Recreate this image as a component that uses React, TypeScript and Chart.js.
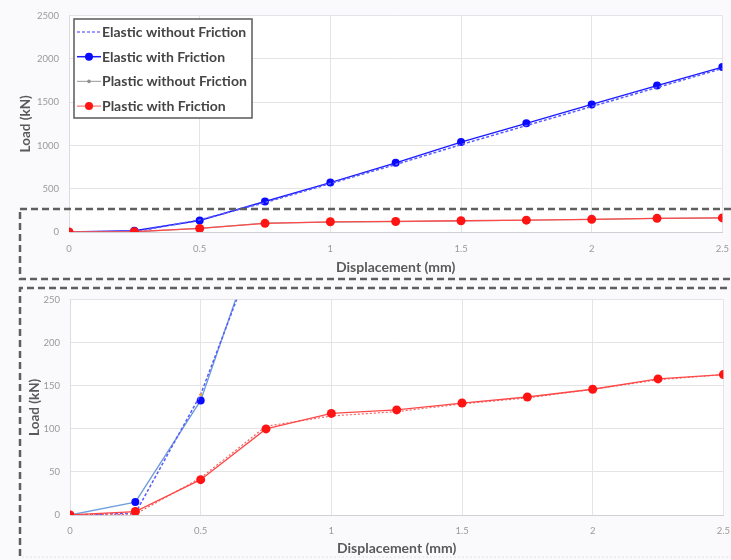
import React, { useEffect, useRef } from "react";
import { Chart, registerables } from "chart.js";

Chart.register(...registerables);

const displacement = [0, 0.25, 0.5, 0.75, 1, 1.25, 1.5, 1.75, 2, 2.25, 2.5];
const elasticWithoutFriction = [0, 2, 140, 340, 560, 780, 1010, 1230, 1450, 1670, 1890];
const elasticWithFriction = [0, 15, 133, 352, 571, 799, 1039, 1256, 1475, 1692, 1906];
const plasticWithoutFriction = [0, 1, 43, 103, 115, 120, 129, 136, 146, 157, 163];
const plasticWithFriction = [0, 4, 41, 100, 118, 122, 130, 137, 146, 158, 163];
const seriesLabels = [
  "Elastic without Friction",
  "Elastic with Friction",
  "Plastic without Friction",
  "Plastic with Friction",
];
const xTitle = "Displacement (mm)";
const yTitle = "Load (kN)";

const FONT = "Lato, 'Open Sans', sans-serif";

const toXY = (ys: number[]) => displacement.map((x, i) => ({ x, y: ys[i] }));

type Variant = "full" | "zoom";

function buildDatasets(variant: Variant) {
  const zoom = variant === "zoom";
  return [
    {
      label: seriesLabels[0],
      data: toXY(elasticWithoutFriction),
      borderColor: "#5a5aff",
      backgroundColor: "#f0a040",
      borderWidth: 1.5,
      borderDash: [3, 2],
      pointRadius: zoom ? 1.5 : 0,
      pointBorderWidth: 0,
      order: 2,
    },
    {
      label: seriesLabels[1],
      data: toXY(elasticWithFriction),
      borderColor: zoom ? "#6f9fdc" : "#1a1aff",
      backgroundColor: "#0a0aff",
      pointBackgroundColor: "#0a0aff",
      pointBorderColor: "#0a0aff",
      borderWidth: 1.4,
      pointRadius: 4,
      pointBorderWidth: 0,
      order: 3,
    },
    {
      label: seriesLabels[2],
      data: toXY(plasticWithoutFriction),
      borderColor: zoom ? "#f06868" : "#a8a8a8",
      backgroundColor: "#a8a8a8",
      borderWidth: 1.2,
      borderDash: zoom ? [2, 2] : [],
      pointRadius: zoom ? 0 : 1.5,
      pointBorderWidth: 0,
      order: 1,
    },
    {
      label: seriesLabels[3],
      data: toXY(plasticWithFriction),
      borderColor: "#ff4848",
      backgroundColor: "#ff1414",
      pointBackgroundColor: "#ff1414",
      pointBorderColor: "#ff1414",
      borderWidth: 1.3,
      pointRadius: 4.5,
      pointBorderWidth: 0,
      order: 0,
    },
  ];
}

const legendSamples = [
  { color: "#7a7aff", dash: [3, 2], radius: 0, width: 1.5 },
  { color: "#1a1aff", dash: [], radius: 4, width: 1.5, point: "#0a0aff" },
  { color: "#a8a8a8", dash: [], radius: 1.8, width: 1.2, point: "#909090" },
  { color: "#ff7070", dash: [], radius: 4, width: 1.2, point: "#ff1414" },
];

const plainTick = (v: any) => String(v);

function makeOptions(variant: Variant) {
  const full = variant === "full";
  return {
    responsive: false,
    animation: false as const,
    layout: {
      padding: full
        ? { left: 0, right: 17, top: 13, bottom: 0 }
        : { left: 0, right: 12, top: 14, bottom: 0 },
    },
    plugins: {
      legend: { display: false },
      tooltip: { enabled: false },
    },
    scales: {
      x: {
        type: "linear" as const,
        min: 0,
        max: 2.5,
        afterFit: (s: any) => {
          s.height = full ? 52 : 45;
        },
        ticks: {
          stepSize: 0.5,
          padding: full ? 11 : 10,
          color: "#9a9a9a",
          font: { family: FONT, size: 9.5 },
          maxRotation: 0,
          callback: plainTick,
        },
        grid: { color: "#e4e4e8", drawTicks: false, lineWidth: 1 },
        border: { color: "#cfcfd4" },
        title: {
          display: true,
          text: xTitle,
          color: "#5a5a5a",
          font: { family: FONT, size: 14, weight: "bold" as const },
          padding: { top: 0, bottom: full ? 8 : 3 },
        },
      },
      y: {
        min: 0,
        max: full ? 2500 : 250,
        afterFit: (s: any) => {
          s.width = full ? 69 : 70;
        },
        ticks: {
          stepSize: full ? 500 : 50,
          padding: 10,
          color: "#9a9a9a",
          font: { family: FONT, size: 9.5 },
          callback: plainTick,
        },
        grid: { color: "#e4e4e8", drawTicks: false, lineWidth: 1 },
        border: { color: "#dcdce0" },
        title: {
          display: true,
          text: yTitle,
          color: "#5a5a5a",
          font: { family: FONT, size: 13.5, weight: "bold" as const },
          padding: { top: full ? 18 : 27, bottom: 0 },
        },
      },
    },
  };
}

const plotBackground = {
  id: "plotBackground",
  beforeDraw(chart: any) {
    const { ctx, chartArea } = chart;
    ctx.save();
    ctx.fillStyle = "#ffffff";
    ctx.fillRect(chartArea.left, chartArea.top, chartArea.right - chartArea.left, chartArea.bottom - chartArea.top);
    ctx.restore();
  },
};

const legendAndBox = {
  id: "legendAndBox",
  afterDraw(chart: any) {
    const { ctx } = chart;
    ctx.save();
    const bx = 74, by = 19, bw = 178, bh = 99;
    ctx.fillStyle = "#ffffff";
    ctx.fillRect(bx, by, bw, bh);
    ctx.strokeStyle = "#5a5a5a";
    ctx.lineWidth = 1.5;
    ctx.setLineDash([]);
    ctx.strokeRect(bx, by, bw, bh);
    chart.data.datasets.forEach((ds: any, i: number) => {
      const s = legendSamples[i];
      const y = 32 + i * 24.7;
      ctx.beginPath();
      ctx.setLineDash(s.dash);
      ctx.strokeStyle = s.color;
      ctx.lineWidth = s.width;
      ctx.moveTo(77, y);
      ctx.lineTo(101, y);
      ctx.stroke();
      ctx.setLineDash([]);
      if (s.radius > 0) {
        ctx.beginPath();
        ctx.fillStyle = s.point;
        ctx.arc(89, y, s.radius, 0, Math.PI * 2);
        ctx.fill();
      }
      ctx.fillStyle = "#454545";
      ctx.font = `bold 14px ${FONT}`;
      ctx.textBaseline = "middle";
      ctx.textAlign = "left";
      ctx.fillText(ds.label, 102, y + 0.5);
    });
    ctx.strokeStyle = "#5f5f5f";
    ctx.lineWidth = 2.5;
    ctx.setLineDash([7, 4]);
    ctx.strokeRect(20, 209, 760, 70);
    ctx.restore();
  },
};

const zoomBox = {
  id: "zoomBox",
  afterDraw(chart: any) {
    const { ctx } = chart;
    ctx.save();
    ctx.strokeStyle = "#5f5f5f";
    ctx.lineWidth = 2.5;
    ctx.setLineDash([7, 4]);
    ctx.beginPath();
    ctx.moveTo(760, 4);
    ctx.lineTo(20, 4);
    ctx.lineTo(20, 290);
    ctx.stroke();
    ctx.strokeStyle = "#e2e2e6";
    ctx.lineWidth = 1;
    ctx.setLineDash([2, 2]);
    ctx.beginPath();
    ctx.moveTo(22, 273);
    ctx.lineTo(740, 273);
    ctx.stroke();
    ctx.restore();
  },
};

function LineChart({ variant, top, height }: { variant: Variant; top: number; height: number }) {
  const ref = useRef<HTMLCanvasElement | null>(null);
  useEffect(() => {
    if (!ref.current) return;
    const chart = new Chart(ref.current, {
      type: "line",
      data: { datasets: buildDatasets(variant) as any },
      options: makeOptions(variant) as any,
      plugins: [plotBackground, variant === "full" ? legendAndBox : zoomBox],
    });
    return () => chart.destroy();
  }, [variant]);
  return (
    <canvas
      ref={ref}
      width={740}
      height={height}
      style={{ position: "absolute", left: 0, top, width: 740, height }}
    />
  );
}

export default function App() {
  return (
    <div
      style={{
        position: "fixed",
        left: 0,
        top: 0,
        width: 731,
        height: 560,
        overflow: "hidden",
        background: "#fafafc",
      }}
    >
      <LineChart variant="full" top={0} height={284} />
      <LineChart variant="zoom" top={284} height={276} />
    </div>
  );
}
